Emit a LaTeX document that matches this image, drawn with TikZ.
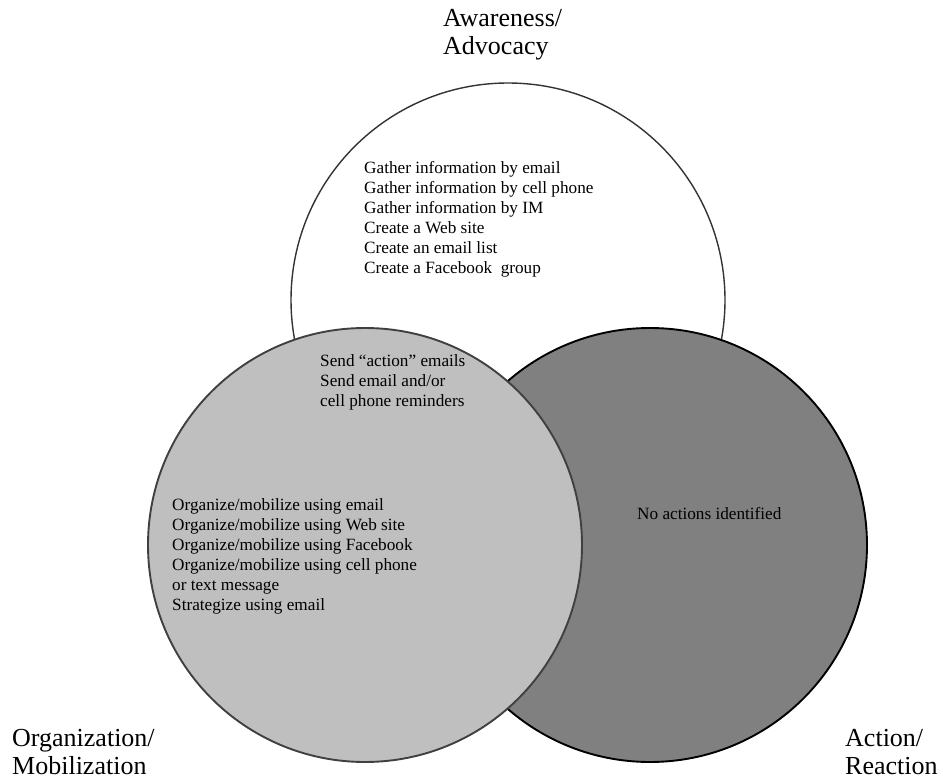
\documentclass[tikz,border=0pt]{standalone}
\usepackage{fontspec}
\setmainfont{Liberation Serif}
\begin{document}
\begin{tikzpicture}[x=1pt,y=-1pt,
  setcircle/.style={circle, minimum size=434pt, inner sep=0pt, outer sep=0pt},
  title/.style={font=\fontsize{26}{28}\selectfont, inner sep=0pt, anchor=base west},
  item/.style={font=\fontsize{17.2}{20}\selectfont, inner sep=0pt, anchor=base west}]
\useasboundingbox (0,0) rectangle (943,781);

% the three overlapping sets, drawn back to front
\node[setcircle, fill=white, draw=black!80, line width=1.4pt] (aware) at (508,300) {};
\node[setcircle, fill=black!50, draw=black, line width=1.9pt] (action) at (650,545) {};
\node[setcircle, fill=black!25, draw=black!75, line width=1.9pt] (organize) at (365,545) {};

% set titles
\node[title] (awareTitle) at (443,27) {\begin{tabular}[t]{@{}l@{}}Awareness/\\Advocacy\end{tabular}};
\node[title] (orgTitle) at (12,746) {\begin{tabular}[t]{@{}l@{}}Organization/\\Mobilization\end{tabular}};
\node[title] (actTitle) at (845,746) {\begin{tabular}[t]{@{}l@{}}Action/\\Reaction\end{tabular}};

% items inside the sets
\node[item] (awareItems) at (364,174) {\begin{tabular}[t]{@{}l@{}}
Gather information by email\\
Gather information by cell phone\\
Gather information by IM\\
Create a Web site\\
Create an email list\\
Create a Facebook\ \ group\end{tabular}};

\node[item] (sharedItems) at (320,366) {\begin{tabular}[t]{@{}l@{}}
Send “action” emails\\
Send email and/or\\
cell phone reminders\end{tabular}};

\node[item] (orgItems) at (172,510) {\begin{tabular}[t]{@{}l@{}}
Organize/mobilize using email\\
Organize/mobilize using Web site\\
Organize/mobilize using Facebook\\
Organize/mobilize using cell phone\\
or text message\\
Strategize using email\end{tabular}};

\node[item] (actItems) at (637,519) {No actions identified};
\end{tikzpicture}
\end{document}
